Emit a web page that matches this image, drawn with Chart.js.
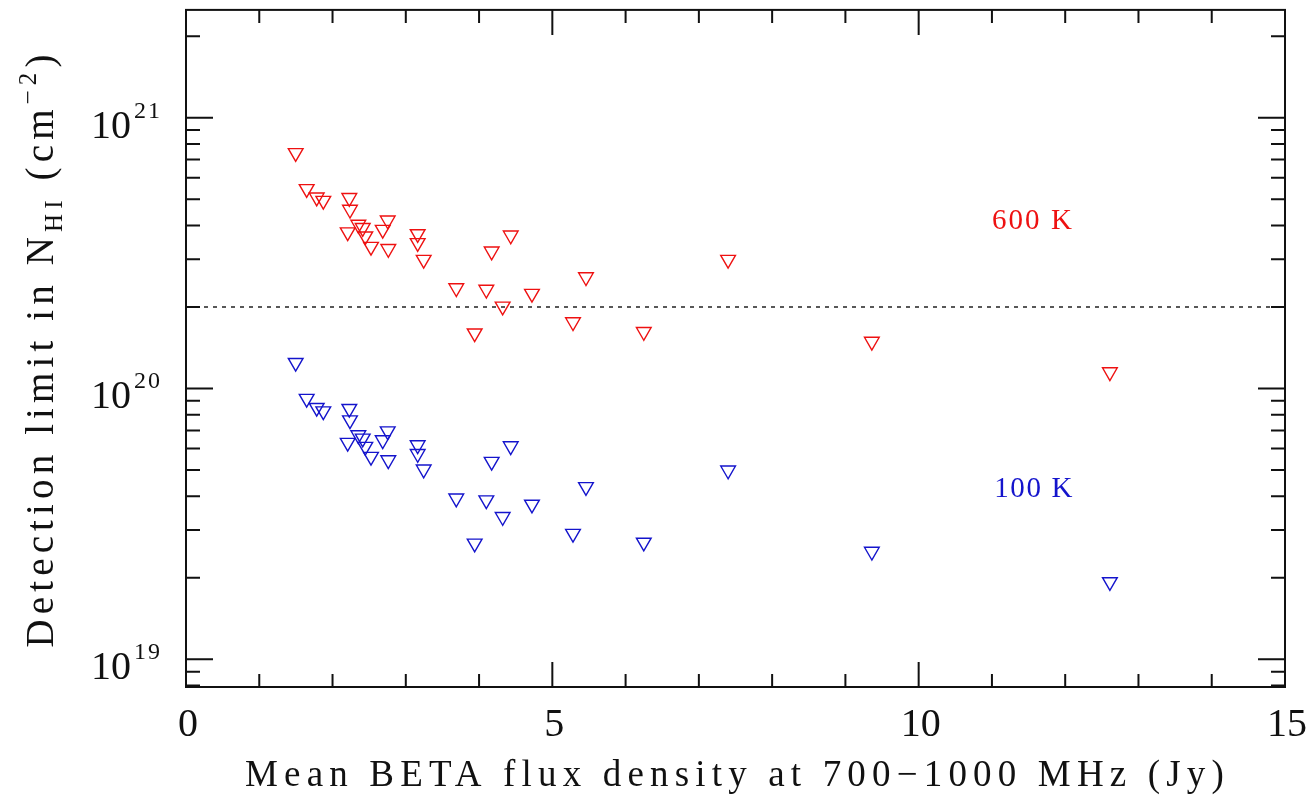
<!DOCTYPE html>
<html>
<head>
<meta charset="utf-8">
<title>Detection limit vs BETA flux density</title>
<script src="https://cdn.jsdelivr.net/npm/chart.js@4.4.1/dist/chart.umd.min.js"></script>
<style>
  html, body { margin: 0; padding: 0; background: #fff; }
  canvas { display: block; }
</style>
</head>
<body>
<canvas id="chart" width="1311" height="798"></canvas>
<script>
// Mean BETA flux density (Jy) for each source
const FLUX = [1.497, 1.647, 1.784, 1.874, 2.207, 2.229, 2.238, 2.352, 2.412, 2.447,
              2.525, 2.685, 2.753, 2.761, 3.162, 3.162, 3.244, 3.689, 3.940, 4.099,
              4.172, 4.322, 4.432, 4.722, 5.282, 5.459, 6.248, 7.399, 9.361, 12.61];

// N_HI detection limit (cm^-2), Tspin = 600 K
const NHI_600K = [7.41e20, 5.46e20, 5.08e20, 4.94e20, 3.78e20, 5.06e20, 4.58e20, 4.03e20, 3.92e20, 3.65e20,
                  3.34e20, 3.86e20, 4.18e20, 3.28e20, 3.72e20, 3.45e20, 2.99e20, 2.35e20, 1.60e20, 2.32e20,
                  3.21e20, 2.01e20, 3.68e20, 2.24e20, 1.76e20, 2.58e20, 1.62e20, 2.99e20, 1.49e20, 1.15e20];

// N_HI detection limit (cm^-2), Tspin = 100 K
const NHI_100K = [1.245e20, 9.17e19, 8.49e19, 8.25e19, 6.31e19, 8.42e19, 7.64e19, 6.73e19, 6.54e19, 6.10e19,
                  5.60e19, 6.45e19, 6.96e19, 5.44e19, 6.18e19, 5.74e19, 5.03e19, 3.93e19, 2.68e19, 3.87e19,
                  5.37e19, 3.36e19, 6.13e19, 3.73e19, 2.91e19, 4.33e19, 2.70e19, 4.99e19, 2.50e19, 1.93e19];

const THRESHOLD = 2e20;

const X_MIN = 0, X_MAX = 15;
const Y_MIN = 7.9e18, Y_MAX = 2.5e21;
const X_TICKS = [0, 5, 10, 15];
const Y_TICK_EXP = [19, 20, 21];

const RED = '#ee1111';
const BLUE = '#1414cc';
const SERIF = '"Liberation Serif", "Times New Roman", serif';

function pts(xs, ys) {
    return xs.map((v, i) => ({ x: v, y: ys[i] }));
}

// draw string stretched with letter spacing to a given width
function spacedText(ctx, str, x, y, width) {
    ctx.letterSpacing = '0px';
    const w0 = ctx.measureText(str).width;
    const sp = (width - w0) / str.length;
    ctx.letterSpacing = sp + 'px';
    ctx.textAlign = 'left';
    ctx.fillText(str, x, y);
    ctx.letterSpacing = '0px';
}

const framePlugin = {
    id: 'frame',
    afterDatasetsDraw(chart) {
        const { ctx, chartArea: a, scales: { x, y } } = chart;
        ctx.save();
        ctx.strokeStyle = '#111';
        ctx.lineWidth = 2;
        ctx.strokeRect(a.left, a.top, a.right - a.left, a.bottom - a.top);

        // inward ticks on all four sides
        ctx.beginPath();
        for (let v = X_MIN + 1; v < X_MAX; v++) {
            const px = x.getPixelForValue(v);
            const len = v % 5 === 0 ? 25 : 13;
            ctx.moveTo(px, a.bottom); ctx.lineTo(px, a.bottom - len);
            ctx.moveTo(px, a.top); ctx.lineTo(px, a.top + len);
        }
        for (let e = 18; e <= 21; e++) {
            for (let m = 1; m <= 9; m++) {
                const v = m * Math.pow(10, e);
                if (v <= Y_MIN || v >= Y_MAX) continue;
                const py = y.getPixelForValue(v);
                const len = m === 1 ? 27 : 14;
                ctx.moveTo(a.left, py); ctx.lineTo(a.left + len, py);
                ctx.moveTo(a.right, py); ctx.lineTo(a.right - len, py);
            }
        }
        ctx.stroke();

        ctx.fillStyle = '#111';
        ctx.textBaseline = 'alphabetic';

        // x tick labels
        ctx.font = '40px ' + SERIF;
        ctx.textAlign = 'center';
        X_TICKS.forEach(v => {
            ctx.fillText(String(v), x.getPixelForValue(v) + 2, 736);
        });

        // y tick labels 10^n
        Y_TICK_EXP.forEach(e => {
            const py = y.getPixelForValue(Math.pow(10, e));
            ctx.font = '40px ' + SERIF;
            ctx.textAlign = 'right';
            ctx.fillText('10', 131, py + 20);
            ctx.font = '24px ' + SERIF;
            ctx.textAlign = 'left';
            ctx.letterSpacing = '2px';
            ctx.fillText(String(e), 134, py);
            ctx.letterSpacing = '0px';
        });

        // x title
        ctx.font = '37px ' + SERIF;
        spacedText(ctx, 'Mean BETA flux density at 700\u22121000 MHz (Jy)', 245, 786, 985);

        // y title with subscript and superscript
        const segs = [
            { t: 'Detection limit in N', s: 39, dy: 0 },
            { t: 'HI', s: 25, dy: 9 },
            { t: ' (cm', s: 39, dy: 0 },
            { t: '\u22122', s: 25, dy: -17 },
            { t: ')', s: 39, dy: 0 }
        ];
        let w0 = 0, n = 0;
        segs.forEach(sg => {
            ctx.font = sg.s + 'px ' + SERIF;
            sg.w = ctx.measureText(sg.t).width;
            w0 += sg.w; n += sg.t.length;
        });
        const target = 598;
        const sp = (target - w0) / n;
        const cy = (a.top + a.bottom) / 2;
        ctx.save();
        ctx.translate(53, cy);
        ctx.rotate(-Math.PI / 2);
        let cx = -target / 2;
        ctx.textAlign = 'left';
        segs.forEach(sg => {
            ctx.font = sg.s + 'px ' + SERIF;
            ctx.letterSpacing = sp + 'px';
            ctx.fillText(sg.t, cx, sg.dy);
            cx += sg.w + sp * sg.t.length;
        });
        ctx.letterSpacing = '0px';
        ctx.restore();

        // temperature labels
        ctx.font = '29px ' + SERIF;
        ctx.fillStyle = RED;
        spacedText(ctx, '600 K', x.getPixelForValue(11.0), y.getPixelForValue(3.87e20), 82);
        ctx.fillStyle = BLUE;
        spacedText(ctx, '100 K', x.getPixelForValue(11.03), y.getPixelForValue(3.96e19), 80);

        ctx.restore();
    }
};

const markerStyle = {
    pointStyle: 'triangle',
    rotation: 180,
    pointRadius: 8.5,
    pointHoverRadius: 8.5,
    pointBorderWidth: 1.4,
    backgroundColor: 'rgba(0,0,0,0)',
    showLine: false
};

new Chart(document.getElementById('chart'), {
    type: 'scatter',
    data: {
        datasets: [
            Object.assign({
                label: '600 K',
                data: pts(FLUX, NHI_600K),
                borderColor: RED,
                pointBorderColor: RED
            }, markerStyle),
            Object.assign({
                label: '100 K',
                data: pts(FLUX, NHI_100K),
                borderColor: BLUE,
                pointBorderColor: BLUE
            }, markerStyle),
            {
                label: 'threshold',
                data: [{ x: X_MIN, y: THRESHOLD }, { x: X_MAX, y: THRESHOLD }],
                showLine: true,
                borderColor: '#222',
                borderWidth: 1.4,
                borderDash: [4, 5],
                pointRadius: 0,
                pointHoverRadius: 0
            }
        ]
    },
    options: {
        responsive: false,
        animation: false,
        devicePixelRatio: 1,
        layout: { padding: { top: 9.5, right: 26, left: 0, bottom: 0 } },
        plugins: {
            legend: { display: false },
            tooltip: { enabled: false }
        },
        scales: {
            x: {
                type: 'linear',
                min: X_MIN,
                max: X_MAX,
                grid: { display: false },
                border: { display: false },
                ticks: { display: false },
                afterFit(s) { s.height = 798 - 687; }
            },
            y: {
                type: 'logarithmic',
                min: Y_MIN,
                max: Y_MAX,
                grid: { display: false },
                border: { display: false },
                ticks: { display: false },
                afterFit(s) { s.width = 186; }
            }
        }
    },
    plugins: [framePlugin]
});
</script>
</body>
</html>
